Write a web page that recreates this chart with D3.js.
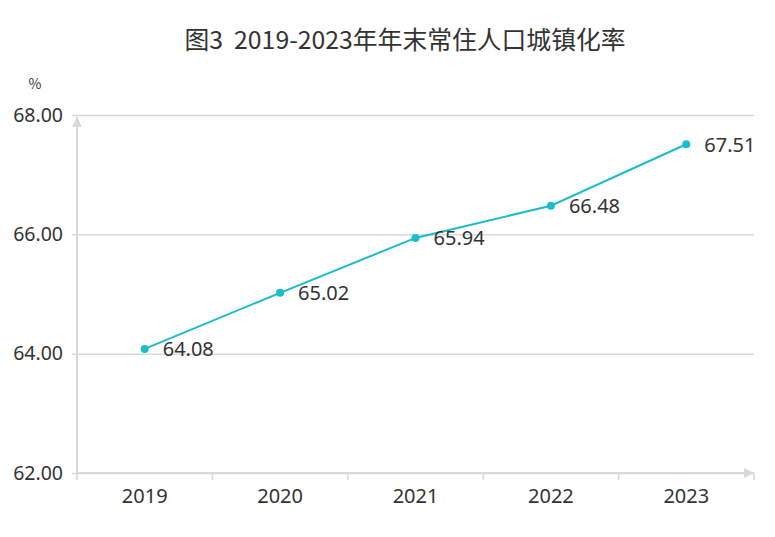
<!DOCTYPE html>
<html>
<head>
<meta charset="utf-8">
<script src="https://cdn.jsdelivr.net/npm/d3@7"></script>
<style>
  body { margin: 0; background: #fff; }
  text { font-family: "Noto Sans CJK SC", "Noto Sans", sans-serif; fill: #333; }
</style>
</head>
<body>
<div id="chart"></div>
<script>
var years = ["2019", "2020", "2021", "2022", "2023"];
var rates = [64.08, 65.02, 65.94, 66.48, 67.51];
var yTicks = [62, 64, 66, 68];
var title = "图3  2019-2023年年末常住人口城镇化率";
var unit = "%";

var margin = { top: 115, right: 21, bottom: 64, left: 77 },
  width = 775 - margin.left - margin.right,
  height = 537 - margin.top - margin.bottom;

var data = years.map(function (y, i) { return { year: y, rate: rates[i] }; });

var svg = d3.select("#chart")
  .append("svg")
  .attr("width", 775)
  .attr("height", 537);

svg.append("defs").append("marker")
  .attr("id", "arrow")
  .attr("viewBox", "0 0 10 10")
  .attr("refX", 10)
  .attr("refY", 5)
  .attr("markerWidth", 10)
  .attr("markerHeight", 10)
  .attr("markerUnits", "userSpaceOnUse")
  .attr("orient", "auto")
  .append("path")
  .attr("d", "M0,0L10,5L0,10Z")
  .attr("fill", "#d9d9d9");

svg.append("text")
  .attr("x", 405)
  .attr("y", 42)
  .attr("text-anchor", "middle")
  .attr("dominant-baseline", "middle")
  .style("font-size", "24.8px")
  .style("white-space", "pre")
  .text(title);

svg.append("text")
  .attr("x", 35)
  .attr("y", 85)
  .attr("text-anchor", "middle")
  .attr("dominant-baseline", "middle")
  .style("font-size", "14px")
  .text(unit);

var g = svg.append("g")
  .attr("transform", "translate(" + margin.left + "," + margin.top + ")");

var x = d3.scaleBand()
  .domain(years)
  .range([0, width]);

var y = d3.scaleLinear()
  .domain([62, 68])
  .range([height, 0]);

// gridlines + y labels
var yAxis = g.append("g")
  .call(d3.axisLeft(y).tickValues(yTicks)
    .tickSize(-(width + 5))
    .tickPadding(14)
    .tickFormat(d3.format(".2f")));
yAxis.select(".domain").remove();
yAxis.selectAll(".tick line")
  .attr("x1", -5)
  .attr("x2", width)
  .attr("stroke", "#d9d9d9")
  .attr("stroke-width", 1.5);
yAxis.selectAll(".tick text")
  .style("font-size", "19.5px")
  .attr("fill", "#333")
  .style("font-family", "'Noto Sans', sans-serif");

// y axis line with arrow
g.append("line")
  .attr("x1", 0).attr("x2", 0)
  .attr("y1", height).attr("y2", 2)
  .attr("stroke", "#d9d9d9")
  .attr("stroke-width", 2)
  .attr("marker-end", "url(#arrow)");

// x axis
var xAxis = g.append("g")
  .attr("transform", "translate(0," + height + ")")
  .call(d3.axisBottom(x).tickSize(0).tickPadding(16));
xAxis.select(".domain").remove();
xAxis.selectAll(".tick text")
  .style("font-size", "20px")
  .attr("fill", "#333")
  .style("font-family", "'Noto Sans', sans-serif");

g.append("line")
  .attr("x1", 0).attr("x2", width)
  .attr("y1", height).attr("y2", height)
  .attr("stroke", "#d9d9d9")
  .attr("stroke-width", 2)
  .attr("marker-end", "url(#arrow)");

var bounds = years.map(function (d) { return x(d); }).concat([width]);
g.selectAll(".xtick")
  .data(bounds)
  .enter()
  .append("line")
  .attr("x1", function (d) { return d; })
  .attr("x2", function (d) { return d; })
  .attr("y1", height)
  .attr("y2", height + 7)
  .attr("stroke", "#d9d9d9")
  .attr("stroke-width", 1.5);

var cx = function (d) { return x(d.year) + x.bandwidth() / 2; };

var line = d3.line()
  .x(cx)
  .y(function (d) { return y(d.rate); });

g.append("path")
  .datum(data)
  .attr("fill", "none")
  .attr("stroke", "#1cbccd")
  .attr("stroke-width", 2)
  .attr("d", line);

g.selectAll(".dot")
  .data(data)
  .enter()
  .append("circle")
  .attr("cx", cx)
  .attr("cy", function (d) { return y(d.rate); })
  .attr("r", 4)
  .attr("fill", "#1cbccd");

g.selectAll(".lbl")
  .data(data)
  .enter()
  .append("text")
  .attr("x", function (d) { return cx(d) + 18; })
  .attr("y", function (d) { return y(d.rate) + 2; })
  .attr("dominant-baseline", "middle")
  .style("font-size", "20px")
  .style("font-family", "'Noto Sans', sans-serif")
  .text(function (d) { return d.rate.toFixed(2); });
</script>
</body>
</html>
